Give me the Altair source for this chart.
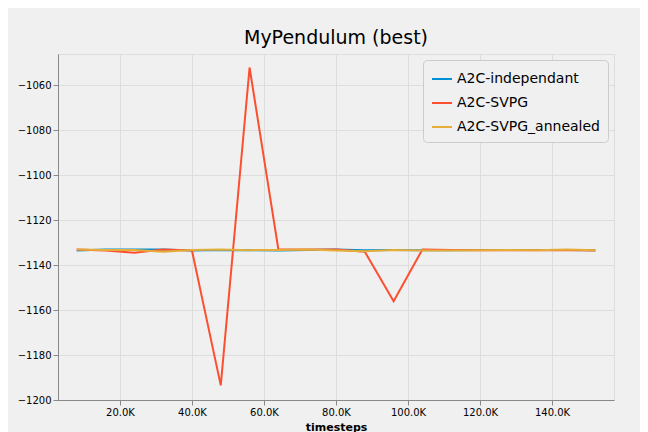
import altair as alt
import pandas as pd

steps = [8000 * i for i in range(1, 20)]
independant = [-1133.5, -1133, -1133, -1133, -1133.5, -1133.2, -1133.3, -1133.5, -1133.2, -1133, -1133.3, -1133.2, -1133.3, -1133.3, -1133.2, -1133.2, -1133.2, -1133.2, -1133.3]
svpg = [-1133, -1133.5, -1134.5, -1133, -1133.5, -1193.5, -1052, -1133, -1133, -1133, -1134, -1156, -1133, -1133.2, -1133.3, -1133.3, -1133.3, -1133.2, -1133.5]
annealed = [-1133, -1133.2, -1133.2, -1134, -1133.2, -1133, -1133.3, -1133.2, -1133, -1133.5, -1133.8, -1133.2, -1133.5, -1133.5, -1133.3, -1133.2, -1133.3, -1133, -1133.3]

names = ["A2C-independant", "A2C-SVPG", "A2C-SVPG_annealed"]
rows = []
for name, vals in zip(names, [independant, svpg, annealed]):
    for s, v in zip(steps, vals):
        rows.append({"timesteps": s, "reward": v, "run": name})
df = pd.DataFrame(rows)

chart = alt.Chart(df).mark_line(strokeWidth=2).encode(
    x=alt.X("timesteps:Q", scale=alt.Scale(domain=[2800, 157200], nice=False, zero=False),
            axis=alt.Axis(values=[20000, 40000, 60000, 80000, 100000, 120000, 140000],
                          labelExpr="format(datum.value/1000, '.1f') + 'K'")),
    y=alt.Y("reward:Q", title=None, scale=alt.Scale(domain=[-1200, -1046], nice=False, zero=False),
            axis=alt.Axis(values=list(range(-1200, -1059, 20)), format="d")),
    color=alt.Color("run:N", title=None, sort=names,
                    scale=alt.Scale(domain=names, range=["#008fd5", "#fc4f30", "#e5ae38"]),
                    legend=alt.Legend(orient="top-right", offset=6, fillColor="#f0f0f0", strokeColor="#cccccc",
                                      padding=8, cornerRadius=4, labelFontSize=14, symbolType="stroke",
                                      symbolSize=400, symbolStrokeWidth=2, rowPadding=6)),
).properties(
    width=556, height=346, background="#f0f0f0",
    padding={"left": 50, "top": 46, "right": 26, "bottom": 40},
    autosize=alt.AutoSizeParams(type="none"),
    title=alt.TitleParams("MyPendulum (best)", fontSize=19, fontWeight="normal", offset=6),
).configure_view(stroke=None).configure_axis(
    grid=True, gridColor="#c8c8c8", gridWidth=1, domain=False, ticks=False,
    labelFontSize=14, labelColor="#000000", titleFontSize=15, titleFontWeight="normal",
    titleColor="#000000", labelPadding=6, titlePadding=2,
).configure(font="DejaVu Sans")

chart.save("out.html", embed_options={"renderer": "svg", "actions": False})
